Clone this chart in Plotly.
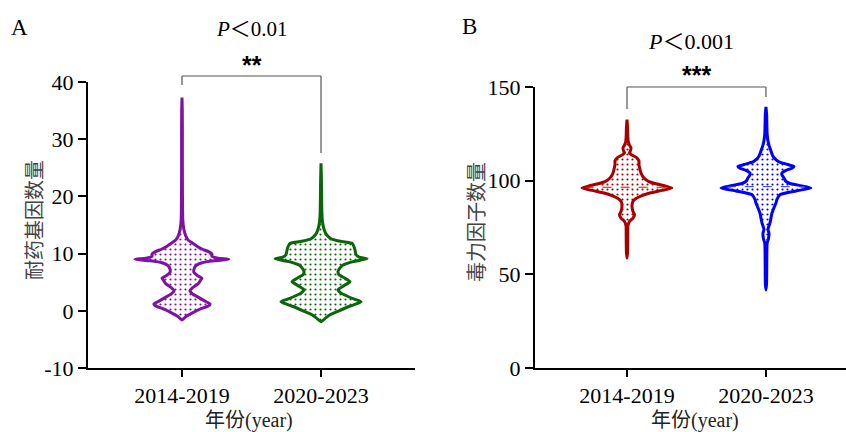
import numpy as np
import plotly.graph_objects as go

# ---------------- data ----------------
categories = ["2014-2019", "2020-2023"]

# Panel A: resistance-gene counts, violin density profiles (value, relative density)
a1_y = [-1.6, -1.0, -0.4, 0.3, 0.9, 1.2, 1.7, 2.3, 2.9, 3.5, 4.1, 4.7, 5.2, 5.7, 6.1, 6.7, 7.3, 7.9,
        8.4, 8.75, 9.0, 9.2, 9.5, 9.9, 10.3, 10.8, 11.3, 11.9, 12.4, 13.2, 14.5, 16, 20, 25, 30, 35, 37.3]
a1_d = [0, 4, 10, 18, 27, 28, 23, 17, 11, 8, 11, 16, 18, 20, 16, 12, 12, 14,
        20, 32, 47, 36, 30, 30, 27, 20, 15, 10, 6, 3.5, 1.6, 0.8, 0.5, 0.4, 0.4, 0.3, 0]
a2_y = [-1.9, -1.2, -0.7, 0.0, 0.75, 1.2, 1.6, 2.0, 2.5, 3.1, 3.7, 4.3, 5.1, 5.7, 6.3, 6.9, 7.5, 8.0,
        8.6, 9.1, 9.4, 9.8, 10.6, 11.2, 11.8, 12.2, 12.6, 13.2, 14.0, 15.4, 17, 20, 23, 25.8]
a2_d = [0, 5, 9, 18, 28, 35, 40, 34, 27, 20, 17, 22, 29, 24, 18, 17, 19, 22,
        32, 46, 38, 35, 34, 33, 31, 18, 10, 6, 3.5, 1.6, 0.9, 0.6, 0.4, 0]

# Panel B: virulence-factor counts
b1_y = [58.7, 62, 70, 76, 78.2, 80, 81.8, 83.5, 86.3, 89, 90.5, 92, 93.4, 94.8, 96.1, 97.2, 98.2, 99.5,
        101.4, 104, 106, 108.6, 110.5, 112.1, 114, 114.8, 116, 117.5, 119, 121, 124, 128, 132.6]
b1_d = [0, 0.6, 0.8, 1.0, 2.5, 6, 7.5, 6, 5, 6, 9, 15, 23, 35, 45, 38, 30, 22,
        17, 14, 13, 12, 12, 10, 4, 2.5, 3.5, 4, 2.5, 1.2, 0.8, 0.6, 0]
b2_y = [41.7, 45, 55, 62, 66.7, 69, 72, 74, 77.4, 80, 82.7, 85.5, 88.1, 90, 92.5, 94.5, 96.1, 97.3,
        98.5, 99.6, 101.5, 103, 104.1, 105.5, 106.6, 107.6, 108.6, 110, 111.2, 113, 116.6, 119, 122,
        125, 130, 135, 139.4]
b2_d = [0, 0.6, 0.8, 0.9, 1.2, 2.5, 3, 2, 4, 5, 6, 8, 10, 11, 14, 30, 45, 35,
        24, 20, 18, 16, 16, 20, 26, 28, 22, 13, 10, 7, 4.5, 3, 1.8,
        1.2, 0.9, 0.7, 0]
b_medians = [96.5, 96.8]

a_ticks = [-10, 0, 10, 20, 30, 40]
b_ticks = [0, 50, 100, 150]

p_text_a = "<i>P</i>＜0.01"
p_text_b = "<i>P</i>＜0.001"
star_a = "**"
star_b = "***"
ytitle_a = "耐药基因数量"
ytitle_b = "毒力因子数量"
xtitle = "年份(year)"

# ---------------- style ----------------
W, H = 846, 432
PX_PER_CAT = 139.0
DSCALE = 1.0 / PX_PER_CAT  # density units -> category units
SERIF = "Liberation Serif, Times New Roman, Noto Sans CJK SC, serif"
CJK = "Noto Sans CJK SC, sans-serif"


def px_x(p):
    return p / W


def px_y(p):
    return 1 - p / H


fig = go.Figure()


def violin(center, ys, ds, color, xaxis, yaxis):
    ys = np.asarray(ys, float)
    hw = np.asarray(ds, float) * DSCALE
    x = np.concatenate([center + hw, (center - hw)[::-1]])
    y = np.concatenate([ys, ys[::-1]])
    fig.add_trace(go.Scatter(
        x=x, y=y, mode="lines", fill="toself",
        line=dict(color=color, width=3, shape="spline", smoothing=0.5),
        fillcolor="white",
        fillpattern=dict(shape=".", fgcolor=color, bgcolor="white", size=5, solidity=0.15),
        xaxis=xaxis, yaxis=yaxis, hoverinfo="skip", showlegend=False))


def median_line(center, ys, ds, m, color, xaxis, yaxis):
    w = np.interp(m, ys, ds) * DSCALE
    fig.add_trace(go.Scatter(
        x=[center - w, center + w], y=[m, m], mode="lines",
        line=dict(color=color, width=1, dash="dash"),
        xaxis=xaxis, yaxis=yaxis, hoverinfo="skip", showlegend=False))


violin(0, a1_y, a1_d, "#7F11A3", "x", "y")
violin(1, a2_y, a2_d, "#0B650B", "x", "y")
violin(0, b1_y, b1_d, "#A80000", "x2", "y2")
violin(1, b2_y, b2_d, "#0000FF", "x2", "y2")
median_line(0, b1_y, b1_d, b_medians[0], "#E00000", "x2", "y2")
median_line(1, b2_y, b2_d, b_medians[1], "#3030FF", "x2", "y2")

ax_common = dict(showline=True, linecolor="black", linewidth=2, ticks="outside",
                 tickwidth=2, tickcolor="black", showgrid=False, zeroline=False,
                 automargin=False,
                 tickfont=dict(family=SERIF, size=22, color="black"))

a_dom = [px_x(88), px_x(415)]
b_dom = [px_x(535), 1.0]
y_dom_a = [px_y(368), px_y(82)]
y_dom_b = [px_y(368), px_y(87)]

fig.update_layout(
    template="none",
    width=W, height=H, margin=dict(l=0, r=0, t=0, b=0, pad=0),
    paper_bgcolor="white", plot_bgcolor="white", showlegend=False,
    xaxis=dict(domain=a_dom, range=[-0.676, 1.676], tickvals=[0, 1], ticktext=categories,
               anchor="y", ticklen=7, **ax_common),
    yaxis=dict(domain=y_dom_a, range=[-10, 40], tickvals=a_ticks,
               ticktext=[str(t) for t in a_ticks], anchor="x", ticklen=8, **ax_common),
    xaxis2=dict(domain=b_dom, range=[-0.662, 1.576], tickvals=[0, 1], ticktext=categories,
                anchor="y2", ticklen=7, **ax_common),
    yaxis2=dict(domain=y_dom_b, range=[0, 150], tickvals=b_ticks,
                ticktext=[str(t) for t in b_ticks], anchor="x2", ticklen=8, **ax_common),
)

# significance brackets
br = dict(color="#555555", width=1.2)
fig.add_shape(type="line", xref="x", yref="paper", x0=0, x1=0, y0=px_y(85), y1=px_y(76), line=br)
fig.add_shape(type="line", xref="x", yref="paper", x0=0, x1=1, y0=px_y(76), y1=px_y(76), line=br)
fig.add_shape(type="line", xref="x", yref="paper", x0=1, x1=1, y0=px_y(76), y1=px_y(153), line=br)
fig.add_shape(type="line", xref="x2", yref="paper", x0=0, x1=0, y0=px_y(109), y1=px_y(87), line=br)
fig.add_shape(type="line", xref="x2", yref="paper", x0=0, x1=1, y0=px_y(87), y1=px_y(87), line=br)
fig.add_shape(type="line", xref="x2", yref="paper", x0=1, x1=1, y0=px_y(87), y1=px_y(97), line=br)

ann = []
ann.append(dict(text="A", xref="paper", yref="paper", x=px_x(9), y=px_y(27), xanchor="left",
                yanchor="middle", showarrow=False, font=dict(family=SERIF, size=23, color="black")))
ann.append(dict(text="B", xref="paper", yref="paper", x=px_x(460), y=px_y(26), xanchor="left",
                yanchor="middle", showarrow=False, font=dict(family=SERIF, size=23, color="black")))
ann.append(dict(text=p_text_a, xref="x", yref="paper", x=0.5, y=px_y(29), xanchor="center",
                yanchor="middle", showarrow=False, font=dict(family=SERIF, size=21, color="black")))
ann.append(dict(text=p_text_b, xref="x2", yref="paper", x=0.46, y=px_y(41), xanchor="center",
                yanchor="middle", showarrow=False, font=dict(family=SERIF, size=22, color="black")))
ann.append(dict(text="<b>" + star_a + "</b>", xref="x", yref="paper", x=0.5, y=px_y(65),
                xanchor="center", yanchor="middle", showarrow=False,
                font=dict(family="Liberation Sans, Arial", size=25, color="black")))
ann.append(dict(text="<b>" + star_b + "</b>", xref="x2", yref="paper", x=0.5, y=px_y(75),
                xanchor="center", yanchor="middle", showarrow=False,
                font=dict(family="Liberation Sans, Arial", size=25, color="black")))
ann.append(dict(text=ytitle_a, xref="paper", yref="paper", x=px_x(33), y=px_y(220), textangle=-90,
                xanchor="center", yanchor="middle", showarrow=False,
                font=dict(family=CJK, size=20, color="#444444")))
ann.append(dict(text=ytitle_b, xref="paper", yref="paper", x=px_x(476), y=px_y(222), textangle=-90,
                xanchor="center", yanchor="middle", showarrow=False,
                font=dict(family=CJK, size=20, color="#444444")))
ann.append(dict(text=xtitle, xref="paper", yref="paper", x=px_x(249), y=px_y(420),
                xanchor="center", yanchor="middle", showarrow=False,
                font=dict(family=SERIF, size=20, color="#222222")))
ann.append(dict(text=xtitle, xref="paper", yref="paper", x=px_x(695), y=px_y(420),
                xanchor="center", yanchor="middle", showarrow=False,
                font=dict(family=SERIF, size=20, color="#222222")))
fig.update_layout(annotations=ann)

fig.write_html("out.html")
